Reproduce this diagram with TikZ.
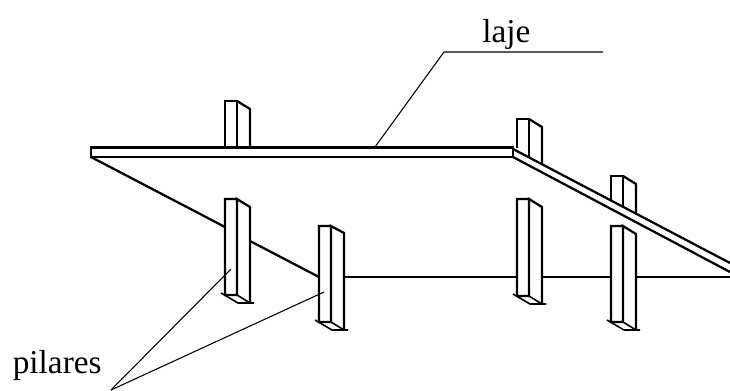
\documentclass[tikz,border=0pt]{standalone}
\usepackage{fontspec}
\setmainfont{Liberation Serif}
\tikzset{
  edge/.style={line width=1.7pt,line join=miter},
  base edge/.style={line width=1.2pt},
  thin leader/.style={line width=0.8pt},
  label text/.style={inner sep=0pt,font=\fontsize{25}{27}\selectfont,anchor=base west},
}
\newcommand{\pilar}[6]{% xl xm xr top topright bottom
  \draw[base edge] (#1-4,#6-2) -- (#2+1,#6+8) -- (#3+4,#6+8);
  \draw[base edge] (#2,#6) -- (#3,#6+8);
  \draw[edge] (#2,#4) -- (#1,#4) -- (#1,#6) -- (#2,#6) -- (#2,#4) -- (#3,#5) -- (#3,#6+8);
}
\newcommand{\topo}[8]{% xl xm xr top topright yl ym yr
  \draw[edge] (#1,#6) -- (#1,#4) -- (#2,#4) -- (#2,#7);
  \draw[edge] (#2,#4) -- (#3,#5) -- (#3,#8);
}
\begin{document}
\begin{tikzpicture}[x=0.75pt,y=-0.75pt]
\useasboundingbox (0,0) rectangle (730,390);
% upper columns
\topo{225}{237}{250}{101}{109}{147}{147}{147}
\topo{517}{529}{542}{119}{127}{148}{157}{163}
\topo{611}{623}{636}{176}{184}{201}{207}{213}
% slab
\draw[edge] (91,157) -- (91,147.5) -- (513,147.5) -- (513,157) -- cycle;
\draw[edge] (513,149) -- (730,263);
\draw[edge] (513,157) -- (730,272);
% lower edges
\draw[edge] (91,157) -- (225,227);
\draw[edge] (250,241) -- (319,277);
\draw[edge] (344,277) -- (517,277);
\draw[edge] (542,277) -- (611,277);
\draw[edge] (636,277) -- (730,277);
% lower columns
\pilar{225}{237}{250}{199}{207}{295}
\pilar{319}{331}{344}{226}{233}{322}
\pilar{517}{529}{542}{199}{207}{296}
\pilar{611}{623}{636}{226}{234}{322}
% labels and leaders
\node[label text] (laje) at (482,42) {laje};
\node[label text] (pilares) at (12.5,373) {pilares};
\coordinate (lajeEnd) at (603,52);
\coordinate (lajeKnee) at (444,52);
\coordinate (lajeTip) at (375,147);
\draw[thin leader] (lajeEnd) -- (lajeKnee) -- (lajeTip);
\coordinate (pilStart) at (111,390);
\coordinate (pilA) at (231,269);
\coordinate (pilB) at (324,292);
\draw[thin leader] (pilStart) -- (pilA);
\draw[thin leader] (pilStart) -- (pilB);
\end{tikzpicture}
\end{document}
